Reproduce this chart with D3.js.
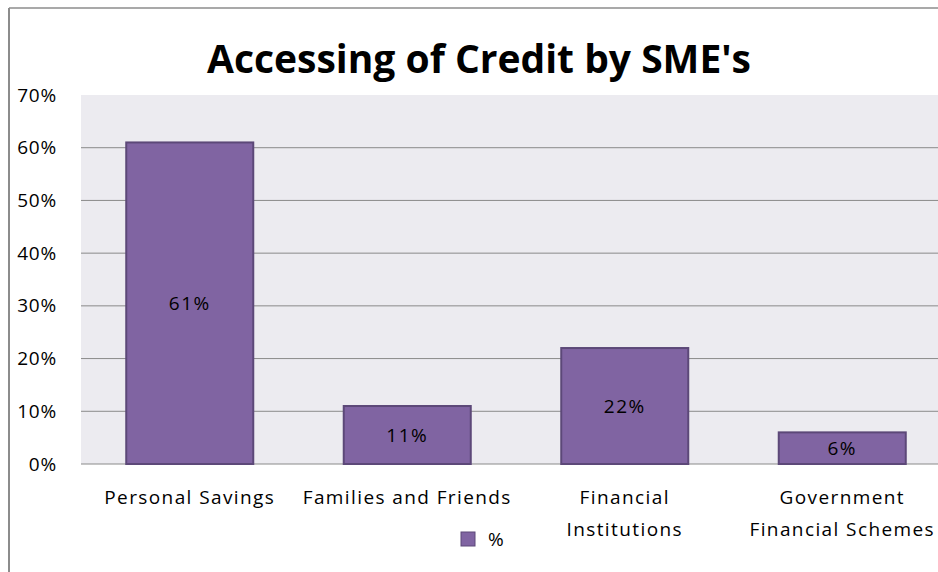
<!DOCTYPE html>
<html>
<head>
<meta charset="utf-8">
<script src="https://cdn.jsdelivr.net/npm/d3@7"></script>
<style>
  body { margin: 0; background: #fff; }
  svg { display: block; font-family: "Open Sans", sans-serif; }
</style>
</head>
<body>
<svg width="938" height="572"></svg>
<script>
const categories = [["Personal Savings"], ["Families and Friends"], ["Financial", "Institutions"], ["Government", "Financial Schemes"]];
const values = [0.61, 0.11, 0.22, 0.06];
const yTicks = [0, 0.1, 0.2, 0.3, 0.4, 0.5, 0.6, 0.7];
const seriesName = "%";

const svg = d3.select('svg');

// outer frame (only top and left edges are visible in the crop)
svg.append('line').attr('x1', 9).attr('x2', 938).attr('y1', 8).attr('y2', 8)
    .attr('stroke', '#8c8c8c').attr('stroke-width', 1.5);
svg.append('line').attr('x1', 9).attr('x2', 9).attr('y1', 8).attr('y2', 572)
    .attr('stroke', '#8c8c8c').attr('stroke-width', 2);

const x = d3.scaleBand()
    .domain(categories.map((c, i) => i))
    .range([81, 951])
    .paddingInner(0.416)
    .paddingOuter(0.208);

const y = d3.scaleLinear().domain([0, 0.7]).range([464, 95]);

// plot background
svg.append('rect')
    .attr('x', 81).attr('y', y(0.7))
    .attr('width', 951 - 81).attr('height', y(0) - y(0.7))
    .attr('fill', '#ecebf0');

// gridlines
svg.append('g')
    .selectAll('line')
    .data(yTicks.slice(1, -1).concat([0]))
    .join('line')
    .attr('x1', 81).attr('x2', 951)
    .attr('y1', d => y(d)).attr('y2', d => y(d))
    .attr('stroke', '#8a8a8a').attr('stroke-width', 1);

// y axis labels
const yAxis = d3.axisLeft(y).tickValues(yTicks).tickFormat(d3.format('.0%')).tickSize(0).tickPadding(0);
svg.append('g')
    .attr('transform', 'translate(57,0)')
    .call(yAxis)
    .call(g => g.select('.domain').remove())
    .selectAll('text')
    .attr('font-family', '"Open Sans", sans-serif')
    .attr('font-size', 19)
    .attr('letter-spacing', 0.8)
    .attr('fill', '#000');

// bars
const barre = svg.append('g')
    .selectAll('g')
    .data(values)
    .join('g');

barre.append('rect')
    .attr('x', (d, i) => x(i))
    .attr('y', d => y(d))
    .attr('width', x.bandwidth())
    .attr('height', d => y(0) - y(d))
    .attr('fill', '#8064a2')
    .attr('stroke', '#5c4878')
    .attr('stroke-width', 2);

barre.append('text')
    .text(d => d3.format('.0%')(d))
    .attr('x', (d, i) => x(i) + x.bandwidth() / 2)
    .attr('y', d => (y(d) + y(0)) / 2)
    .attr('dy', '0.35em')
    .attr('text-anchor', 'middle')
    .attr('font-size', 19)
    .attr('letter-spacing', 1.5)
    .attr('fill', '#000');

// category labels
svg.append('g')
    .selectAll('text')
    .data(categories)
    .join('text')
    .attr('x', (d, i) => x(i) + x.bandwidth() / 2)
    .attr('y', 504)
    .attr('text-anchor', 'middle')
    .attr('font-size', 19)
    .attr('letter-spacing', 1.4)
    .attr('fill', '#000')
    .selectAll('tspan')
    .data(d => d)
    .join('tspan')
    .attr('x', function () { return this.parentNode.getAttribute('x'); })
    .attr('dy', (d, i) => i === 0 ? 0 : 32)
    .text(d => d);

// title
svg.append('text')
    .text("Accessing of Credit by SME's")
    .attr('x', 479)
    .attr('y', 73)
    .attr('text-anchor', 'middle')
    .attr('font-size', 39)
    .attr('font-weight', 'bold')
    .attr('fill', '#000');

// legend
const legende = svg.append('g').attr('transform', 'translate(461,532)');
legende.append('rect')
    .attr('width', 14).attr('height', 14)
    .attr('fill', '#8064a2').attr('stroke', '#5c4878').attr('stroke-width', 1);
legende.append('text')
    .text(seriesName)
    .attr('x', 27).attr('y', 14)
    .attr('font-size', 19)
    .attr('fill', '#000');
</script>
</body>
</html>
